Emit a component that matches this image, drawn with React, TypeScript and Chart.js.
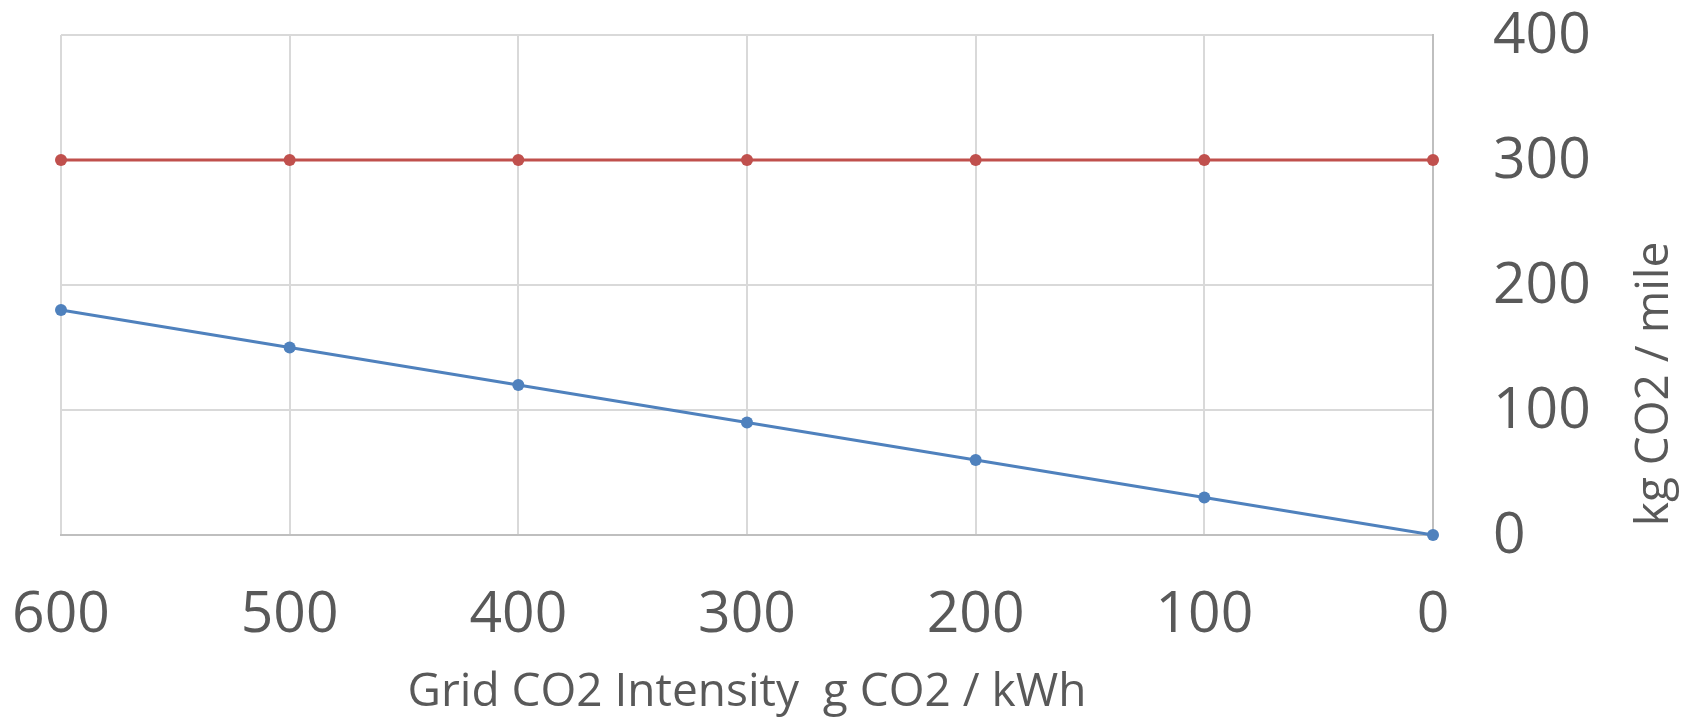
import React, { useEffect, useRef } from "react";
import { Chart, registerables } from "chart.js";

Chart.register(...registerables);

const gridIntensity = [600, 500, 400, 300, 200, 100, 0];
const evEmissions = [180, 150, 120, 90, 60, 30, 0];
const iceEmissions = [300, 300, 300, 300, 300, 300, 300];
const xTitle = "Grid CO2 Intensity  g CO2 / kWh";
const yTitle = "kg CO2 / mile";

const FONT = "'Open Sans', 'Noto Sans', sans-serif";
const TEXT = "#595959";

const axisTitlesPlugin = {
  id: "axisTitles",
  afterDraw(chart: any, _args: any, opts: any) {
    const ctx = chart.ctx as CanvasRenderingContext2D;
    ctx.save();
    ctx.fillStyle = TEXT;
    ctx.font = `${opts.size}px ${FONT}`;
    ctx.textAlign = "center";
    ctx.textBaseline = "middle";
    ctx.fillText(opts.xText, opts.xTitleX, opts.xTitleY);
    ctx.translate(opts.yTitleX, opts.yTitleY);
    ctx.rotate(-Math.PI / 2);
    ctx.fillText(opts.yText, 0, 0);
    ctx.restore();
  },
};

const zeroPadding = (s: any) => {
  s.paddingLeft = 0;
  s.paddingRight = 0;
  s.paddingTop = 0;
  s.paddingBottom = 0;
};

export default function App() {
  const ref = useRef<HTMLCanvasElement | null>(null);
  useEffect(() => {
    if (!ref.current) return;
    const chart = new Chart(ref.current, {
      type: "line",
      data: {
        datasets: [
          {
            label: "EV",
            data: gridIntensity.map((x, i) => ({ x, y: evEmissions[i] })),
            borderColor: "#4F81BD",
            backgroundColor: "#4F81BD",
            borderWidth: 3,
            pointRadius: 6,
            pointBorderWidth: 0,
            clip: false as any,
          },
          {
            label: "ICE",
            data: gridIntensity.map((x, i) => ({ x, y: iceEmissions[i] })),
            borderColor: "#C0504D",
            backgroundColor: "#C0504D",
            borderWidth: 3,
            pointRadius: 6,
            pointBorderWidth: 0,
            clip: false as any,
          },
        ],
      },
      options: {
        animation: false,
        responsive: false,
        devicePixelRatio: 1,
        layout: { padding: { left: 61, top: 35, right: 0, bottom: 0 } },
        plugins: {
          legend: { display: false },
          tooltip: { enabled: false },
          axisTitles: {
            size: 46,
            xText: xTitle,
            yText: yTitle,
            xTitleX: 747,
            xTitleY: 693,
            yTitleX: 1655,
            yTitleY: 384,
          },
        } as any,
        scales: {
          x: {
            type: "linear",
            reverse: true,
            min: 0,
            max: 600,
            afterFit: (s: any) => {
              s.height = 185;
              zeroPadding(s);
            },
            ticks: {
              stepSize: 100,
              padding: 47,
              color: TEXT,
              font: { family: FONT, size: 57 },
              maxRotation: 0,
            },
            grid: { color: "#D9D9D9", lineWidth: 2, drawTicks: false },
            border: { color: "#BFBFBF", width: 2 },
          },
          y: {
            type: "linear",
            position: "right",
            min: 0,
            max: 400,
            afterFit: (s: any) => {
              s.width = 257;
              zeroPadding(s);
            },
            ticks: {
              stepSize: 100,
              padding: 60,
              labelOffset: 2,
              color: TEXT,
              font: { family: FONT, size: 57 },
            },
            grid: { color: "#D9D9D9", lineWidth: 2, drawTicks: false },
            border: { color: "#BFBFBF", width: 2 },
          },
        },
      },
      plugins: [axisTitlesPlugin],
    });
    return () => chart.destroy();
  }, []);
  return (
    <div style={{ position: "absolute", left: 0, top: 0, width: 1690, height: 720, background: "#fff" }}>
      <canvas ref={ref} width={1690} height={720} style={{ display: "block" }} />
    </div>
  );
}
